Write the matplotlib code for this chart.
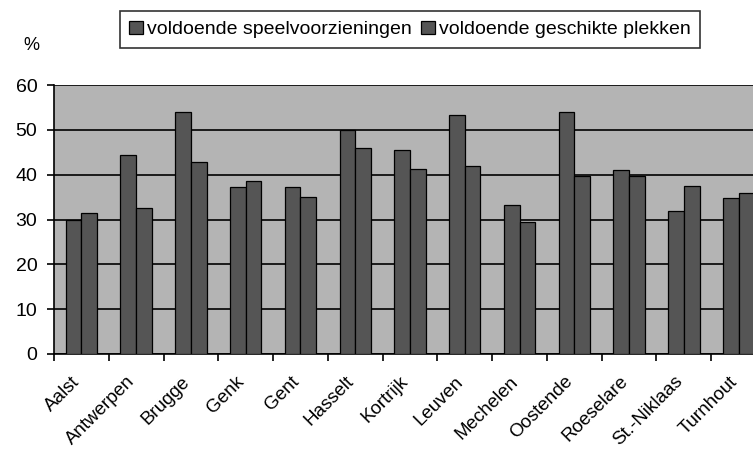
import matplotlib
matplotlib.use("Agg")
import matplotlib.pyplot as plt
import matplotlib.transforms as mtransforms
import numpy as np
from matplotlib.ticker import FixedLocator

plt.rcParams['font.family'] = ['Liberation Sans', 'DejaVu Sans']

categories = ["Aalst", "Antwerpen", "Brugge", "Genk", "Gent", "Hasselt", "Kortrijk",
              "Leuven", "Mechelen", "Oostende", "Roeselare", "St.-Niklaas", "Turnhout"]
speel = [29.9, 44.4, 53.9, 37.2, 37.2, 50.0, 45.6, 53.4, 33.3, 53.9, 41.1, 32.0, 34.7]
plekken = [31.4, 32.6, 42.8, 38.6, 35.0, 45.9, 41.2, 42.0, 29.5, 39.6, 39.7, 37.4, 35.8]
series_labels = ["voldoende speelvoorzieningen", "voldoende geschikte plekken"]
yticks = [0, 10, 20, 30, 40, 50, 60]

W, H = 753, 449
fig = plt.figure(figsize=(W / 100, H / 100), dpi=100)
ax = fig.add_axes([54 / W, (H - 354) / H, 712 / W, 269 / H])
ax.set_facecolor("#b4b4b4")

x = np.arange(len(categories))
bw = 0.287
b1 = ax.bar(x - bw / 2, speel, bw, color="#555555", edgecolor="black", linewidth=0.9, zorder=3,
            label=series_labels[0])
b2 = ax.bar(x + bw / 2, plekken, bw, color="#555555", edgecolor="black", linewidth=0.9, zorder=3,
            label=series_labels[1])

ax.set_xlim(-0.5, len(categories) - 0.5)
ax.set_ylim(0, 60)
ax.set_yticks(yticks)
ax.yaxis.grid(True, color="black", linewidth=1.2, zorder=1)
ax.set_axisbelow(True)

for s in ["top", "right"]:
    ax.spines[s].set_visible(False)
for s in ["left", "bottom"]:
    ax.spines[s].set_linewidth(1.2)
    ax.spines[s].set_color("black")

ax.tick_params(axis="y", direction="out", length=5, width=1.2, labelsize=14, pad=7)
ax.set_xticks(x)
ax.set_xticklabels(categories, rotation=45, ha="right", va="center", rotation_mode="anchor",
                   fontsize=13.5)
ax.tick_params(axis="x", which="major", length=0, pad=18)
offset = mtransforms.ScaledTranslation(-4 / 100, 0, fig.dpi_scale_trans)
for lbl in ax.get_xticklabels():
    lbl.set_transform(lbl.get_transform() + offset)
ax.xaxis.set_minor_locator(FixedLocator(np.arange(-0.5, len(categories), 1.0)))
ax.tick_params(axis="x", which="minor", direction="out", length=5, width=1.2)

fig.text(31 / W, 1 - 46 / H, "%", fontsize=13, ha="center", va="center")

leg = fig.legend(handles=[b1, b2], labels=series_labels, loc="upper center",
                 bbox_to_anchor=(410 / W, 1 - 11 / H), ncol=2, frameon=True, fancybox=False,
                 edgecolor="black", fontsize=14, handlelength=0.7, handleheight=0.7,
                 handletextpad=0.2, columnspacing=0.5, borderpad=0.5, borderaxespad=0)
leg.get_frame().set_linewidth(1.2)

fig.savefig("out.png", dpi=100)
